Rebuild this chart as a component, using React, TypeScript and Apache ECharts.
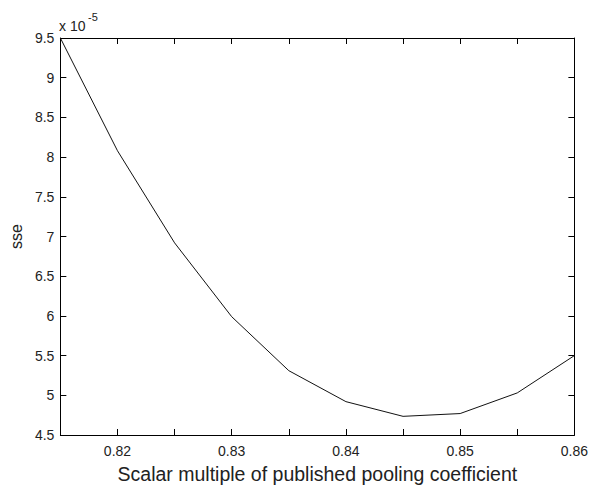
import React, { useEffect, useRef } from "react";
import * as echarts from "echarts";

const xValues = [0.815, 0.82, 0.825, 0.83, 0.835, 0.84, 0.845, 0.85, 0.855, 0.86];
const sseValues = [9.5, 8.08, 6.92, 5.99, 5.31, 4.92, 4.735, 4.77, 5.03, 5.5]; // x 10^-5
const xTitle = "Scalar multiple of published pooling coefficient";
const yTitle = "sse";
const multiplierBase = "x 10";
const multiplierExp = "-5";

const FONT = "'Liberation Sans', Arial, sans-serif";

export default function App() {
  const ref = useRef<HTMLDivElement>(null);
  useEffect(() => {
    if (!ref.current) return;
    const chart = echarts.init(ref.current, undefined, { renderer: "svg" });
    const axisLine = { show: true, lineStyle: { color: "#000", width: 1 } };
    const tick = { show: true, inside: true, length: 6, lineStyle: { color: "#000" } };
    const xFmt = (v: number) => {
      const h = v * 100;
      return Math.abs(h - Math.round(h)) < 1e-6 ? v.toFixed(2) : "";
    };
    chart.setOption({
      animation: false,
      backgroundColor: "#fff",
      grid: { left: 59, right: 15, top: 38, bottom: 46, containLabel: false },
      xAxis: [
        {
          type: "value",
          min: 0.815,
          max: 0.86,
          interval: 0.005,
          axisLine,
          axisTick: tick,
          splitLine: { show: false },
          axisLabel: { formatter: xFmt, color: "#222", fontSize: 14, fontFamily: FONT, margin: 9, showMinLabel: true, showMaxLabel: true },
          name: xTitle,
          nameLocation: "middle",
          nameGap: 29,
          nameTextStyle: { color: "#222", fontSize: 19.5, fontFamily: FONT },
        },
        {
          type: "value",
          position: "top",
          min: 0.815,
          max: 0.86,
          interval: 0.005,
          axisLine,
          axisTick: tick,
          splitLine: { show: false },
          axisLabel: { show: false },
        },
      ],
      yAxis: [
        {
          type: "value",
          min: 4.5,
          max: 9.5,
          interval: 0.5,
          axisLine,
          axisTick: tick,
          splitLine: { show: false },
          axisLabel: { color: "#222", fontSize: 14, fontFamily: FONT, margin: 6 },
          name: yTitle,
          nameLocation: "middle",
          nameGap: 26,
          nameRotate: 90,
          nameTextStyle: { color: "#222", fontSize: 16, fontFamily: FONT },
        },
        {
          type: "value",
          position: "right",
          min: 4.5,
          max: 9.5,
          interval: 0.5,
          axisLine,
          axisTick: tick,
          splitLine: { show: false },
          axisLabel: { show: false },
        },
      ],
      graphic: [
        {
          type: "text",
          left: 59,
          top: 19,
          style: { text: multiplierBase, fill: "#222", fontSize: 14, fontFamily: FONT },
        },
        {
          type: "text",
          left: 88,
          top: 11,
          style: { text: multiplierExp, fill: "#222", fontSize: 11, fontFamily: FONT },
        },
      ],
      series: [
        {
          type: "line",
          data: xValues.map((x, i) => [x, sseValues[i]]),
          showSymbol: false,
          symbol: "none",
          lineStyle: { color: "#111", width: 1 },
          xAxisIndex: 0,
          yAxisIndex: 0,
        },
      ],
    });
    return () => chart.dispose();
  }, []);
  return <div ref={ref} style={{ position: "fixed", left: 0, top: 0, width: 591, height: 489 }} />;
}
